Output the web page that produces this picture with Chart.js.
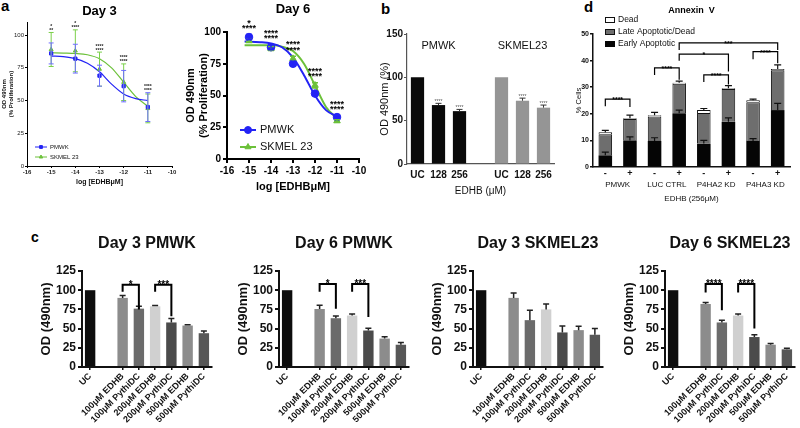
<!DOCTYPE html>
<html>
<head>
<meta charset="utf-8">
<script src="https://cdn.jsdelivr.net/npm/chart.js@4.4.1/dist/chart.umd.min.js"></script>
<style>
  body { margin: 0; background: #fff; }
  #figura { position: relative; width: 800px; height: 428px; overflow: hidden; background: #fff; font-family: 'Liberation Sans', Arial, sans-serif; }
  #figura canvas { position: absolute; }
  .letra { position: absolute; font-weight: bold; font-size: 15px; color: #000; }
</style>
</head>
<body>
<div id="figura">
  <div class="letra" style="left:1px;top:-3px">a</div>
  <div class="letra" style="left:381px;top:0px">b</div>
  <div class="letra" style="left:584px;top:-2px">d</div>
  <div class="letra" style="left:31px;top:229px;font-size:14px">c</div>
</div>
<script>
// ---- painel a: proliferação (log da dose) ----
var logDose = [-15, -14, -13, -12, -11]

var pmwkDia3 = [86, 82, 69, 61, 45]
var pmwkDia3Erro = [8, 11, 8, 12, 11]
var skmelDia3 = [89, 88, 74, 64, 44]
var skmelDia3Erro = [13, 16, 13, 14, 11]
var curvaX3 = [-15, -14.5, -14, -13.5, -13, -12.5, -12, -11.5, -11]
var curvaPmwk3 = [84, 83.5, 82, 78.5, 72, 62.5, 55, 51.5, 50]
var curvaSkmel3 = [86.5, 86.3, 86, 85, 82, 75, 64, 53, 45.5]
var estrelasDia3 = [['*', '**'], ['*', '****'], ['****', '****'], ['****', '****'], ['****', '****']]

var pmwkDia6 = [96, 88, 75, 51.5, 33]
var pmwkDia6Erro = [2, 2, 2, 1, 1]
var skmelDia6 = [93, 87, 79, 58, 30]
var skmelDia6Erro = [1, 1.5, 2, 2, 1]
var curvaX6 = [-15.2, -14.5, -14, -13.5, -13, -12.5, -12, -11.5, -11]
var curvaPmwk6 = [92.5, 92, 91, 88, 80, 66, 50, 38.5, 33.5]
var curvaSkmel6 = [89.5, 89.5, 89.5, 88.5, 85, 75, 58, 41, 32]
var estrelasDia6 = [['*', '****'], ['****', '****'], ['****', '****'], ['****', '****'], ['****', '****']]

// ---- painel b ----
var dosesB = ['UC', '128', '256']
var linhagensB = ['PMWK', 'SKMEL23']
var pmwkB = [100, 68, 61]
var pmwkBErro = [0, 2, 2]
var skmelB = [100, 73, 65]
var skmelBErro = [0, 3, 3]

// ---- painel d: Annexin V ----
var condicoesD = ['-', '+', '-', '+', '-', '+', '-', '+']
var gruposD = ['PMWK', 'LUC CTRL', 'P4HA2 KD', 'P4HA3 KD']
var precoce = [4.4, 10, 9.8, 20.2, 8.8, 17, 9.8, 21.4]
var precoceErro = [1.2, 1.3, 1.2, 1.2, 1.2, 1.5, 0.9, 2.5]
var tardio = [7.9, 8, 9.2, 11.1, 11.5, 12.3, 14.5, 15]
var morto = [0.8, 0.3, 0.5, 0.4, 1.1, 0.3, 0.8, 0.4]
var mortoErro = [0.7, 1.2, 1.0, 0.6, 0.6, 1.0, 0.4, 1.6]
// [barra a, barra b, altura, fim perna a, fim perna b, texto]
var colchetesD = [[0, 1, 25.5, 22.8, 22.6, '****'], [2, 3, 37.3, 34.6, 32.8, '****'], [4, 5, 34.6, 32, 31, '****'],
  [3, 5, 42.4, 39.9, 35.9, '*'], [3, 7, 46.7, 44, 44, '***'], [6, 7, 43.4, 40.5, 39, '****']]

// ---- painel c ----
var tratamentosC = ['UC', '100μM EDHB', '100μM PythiDC', '200μM EDHB', '200μM PythiDC', '500μM EDHB', '500μM PythiDC']
var dia3Pmwk = [100, 90, 76, 79, 58, 54, 44]
var dia3PmwkErro = [0, 3, 3, 1, 5, 1, 3]
var dia6Pmwk = [100, 75.5, 63.5, 67, 47.5, 37, 29]
var dia6PmwkErro = [0, 5, 3, 2, 3, 2.5, 3]
var dia3Skmel = [100, 90, 61, 75, 45, 48, 42]
var dia3SkmelErro = [0, 6.5, 13, 7, 8.5, 5, 8]
var dia6Skmel = [100, 82, 58, 67, 39, 29, 23]
var dia6SkmelErro = [0, 2, 3, 2, 3, 1.5, 1.5]
var colchetesDia3Pmwk = [[1, 2, 107, 98, 75, '*'], [3, 4, 107, 98, 66, '***']]
var colchetesDia6Pmwk = [[1, 2, 108, 98, 76, '*'], [3, 4, 108, 98, 65, '***']]
var colchetesDia6Skmel = [[1, 2, 108, 97, 74, '****'], [3, 4, 108, 97, 50, '****']]

var FONTE = "'Liberation Sans', Arial, sans-serif"
Chart.defaults.font.family = FONTE
Chart.defaults.color = '#111'
Chart.defaults.animation = false
Chart.defaults.responsive = false
Chart.defaults.devicePixelRatio = 1
Chart.defaults.plugins.legend.display = false
Chart.defaults.plugins.tooltip.enabled = false

// barras de erro, colchetes, textos e legenda desenhados pelas escalas
var extras = {
  id: 'extras',
  afterDatasetsDraw: function (chart, args, o) {
    var ctx = chart.ctx;
    var x = chart.scales.x, y = chart.scales.y;
    var zero = y.getPixelForValue(0);
    ctx.save();
    (o.erros || []).forEach(function (e) {
      var meta = chart.getDatasetMeta(e.ds);
      e.vals.forEach(function (v, i) {
        var el = meta.data[i];
        if (!v || !el || isNaN(el.y)) return;
        var d = zero - y.getPixelForValue(v);
        var cima = el.y - d;
        var baixo = e.ambos ? el.y + d : el.y;
        ctx.strokeStyle = e.cor;
        ctx.lineWidth = e.larg || 1;
        ctx.beginPath();
        ctx.moveTo(el.x, baixo); ctx.lineTo(el.x, cima);
        ctx.moveTo(el.x - e.cap, cima); ctx.lineTo(el.x + e.cap, cima);
        if (e.ambos) { ctx.moveTo(el.x - e.cap, baixo); ctx.lineTo(el.x + e.cap, baixo); }
        ctx.stroke();
      });
    });
    (o.colchetes || []).forEach(function (c) {
      var xa = x.getPixelForValue(c[0]), xb = x.getPixelForValue(c[1]);
      var yn = y.getPixelForValue(c[2]);
      ctx.strokeStyle = '#000';
      ctx.lineWidth = o.largColchete || 1;
      ctx.beginPath();
      ctx.moveTo(xa, y.getPixelForValue(c[3])); ctx.lineTo(xa, yn);
      ctx.lineTo(xb, yn); ctx.lineTo(xb, y.getPixelForValue(c[4]));
      ctx.stroke();
      ctx.fillStyle = '#000';
      ctx.font = o.fonteColchete;
      ctx.textAlign = 'center';
      ctx.textBaseline = 'alphabetic';
      ctx.fillText(c[5], (xa + xb) / 2, yn + (o.dyColchete || 0));
    });
    (o.notas || []).forEach(function (n) {
      ctx.fillStyle = n.cor || '#000';
      ctx.font = n.fonte;
      ctx.textAlign = 'center';
      ctx.textBaseline = 'alphabetic';
      ctx.fillText(n.texto, x.getPixelForValue(n.x), y.getPixelForValue(n.y) + (n.dy || 0));
    });
    (o.legenda || []).forEach(function (l) {
      var lx = chart.chartArea.left + l.x, ly = chart.chartArea.top + l.y;
      ctx.fillStyle = l.cor;
      ctx.strokeStyle = l.borda || l.cor;
      if (l.tipo == 'linha') {
        ctx.lineWidth = l.larg;
        ctx.beginPath(); ctx.moveTo(lx, ly); ctx.lineTo(lx + l.comp, ly); ctx.stroke();
        ctx.lineWidth = 1;
        Chart.helpers.drawPoint(ctx, { pointStyle: l.ponto, radius: l.raio, rotation: 0, borderWidth: 1 }, lx + l.comp / 2, ly);
      } else {
        ctx.lineWidth = 1;
        ctx.fillRect(lx, ly - l.alt / 2, l.comp, l.alt);
        ctx.strokeRect(lx + 0.5, ly - l.alt / 2 + 0.5, l.comp - 1, l.alt - 1);
      }
      ctx.fillStyle = '#111';
      ctx.font = l.fonte;
      ctx.textAlign = 'left';
      ctx.textBaseline = 'middle';
      ctx.fillText(l.texto, lx + l.comp + l.gap, ly);
    });
    ctx.restore();
  }
}

function novoCanvas(esq, topo, larg, alt) {
  var c = document.createElement('canvas')
  c.width = larg
  c.height = alt
  c.style.left = esq + 'px'
  c.style.top = topo + 'px'
  document.getElementById('figura').appendChild(c)
  return c
}

function fixa(tamanho) {
  return function (eixo) {
    if (eixo.isHorizontal()) eixo.height = tamanho
    else eixo.width = tamanho
  }
}

function pontos(xs, ys) {
  return xs.map(function (v, i) { return { x: v, y: ys[i] } })
}

function notasEstrelas(estrelas, topos, fonte, dyCima, dyBaixo, cor) {
  var notas = []
  estrelas.forEach(function (par, i) {
    notas.push({ x: logDose[i], y: topos[i], dy: dyCima, texto: par[0], fonte: fonte, cor: cor })
    notas.push({ x: logDose[i], y: topos[i], dy: dyBaixo, texto: par[1], fonte: fonte, cor: cor })
  })
  return notas
}

function topos(a, ae, b, be) {
  return a.map(function (v, i) { return Math.max(v + ae[i], b[i] + be[i]) })
}

var AZUL = '#2323f5'
var VERDE = '#6cc13a'

// ---------- Day 3 ----------
new Chart(novoCanvas(0, 0, 199, 186), {
  type: 'scatter',
  data: {
    datasets: [
      { data: pontos(logDose, pmwkDia3), pointStyle: 'rect', pointRadius: 2.3, backgroundColor: AZUL, borderColor: AZUL },
      { data: pontos(logDose, skmelDia3), pointStyle: 'triangle', pointRadius: 2.3, backgroundColor: VERDE, borderColor: VERDE },
      { data: pontos(curvaX3, curvaPmwk3), showLine: true, pointRadius: 0, borderColor: AZUL, borderWidth: 1.2, cubicInterpolationMode: 'monotone' },
      { data: pontos(curvaX3, curvaSkmel3), showLine: true, pointRadius: 0, borderColor: VERDE, borderWidth: 1.2, cubicInterpolationMode: 'monotone' }
    ]
  },
  options: {
    layout: { padding: { left: 0, right: 27, top: 0, bottom: 0 } },
    scales: {
      x: {
        min: -16, max: -10, afterFit: fixa(20),
        ticks: { stepSize: 1, font: { size: 6, weight: 'bold' }, padding: 1, color: '#222' },
        grid: { drawOnChartArea: false, tickLength: 2, color: '#000' },
        border: { color: '#000', width: 1 },
        title: { display: true, text: 'log [EDHBμM]', font: { size: 7, weight: 'bold' }, padding: 0, color: '#111' }
      },
      y: {
        min: 0, max: 110, afterFit: fixa(27),
        ticks: { stepSize: 25, includeBounds: false, font: { size: 6 }, padding: 1, color: '#222' },
        grid: { drawOnChartArea: false, tickLength: 2, color: '#000' },
        border: { color: '#000', width: 1 },
        title: { display: true, text: ['OD 490nm', '(% Proliferation)'], font: { size: 6, weight: 'bold' }, padding: { top: 1, bottom: 0 }, color: '#111' }
      }
    },
    plugins: {
      title: { display: true, text: 'Day 3', fullSize: false, font: { size: 13, weight: 'bold' }, color: '#000', padding: { top: 4, bottom: 2.4 } },
      extras: {
        erros: [
          { ds: 1, vals: skmelDia3Erro, ambos: true, cor: '#7bd04a', cap: 2.5, larg: 1 },
          { ds: 0, vals: pmwkDia3Erro, ambos: true, cor: '#6d6dff', cap: 2.5, larg: 1 }
        ],
        notas: notasEstrelas(estrelasDia3, topos(pmwkDia3, pmwkDia3Erro, skmelDia3, skmelDia3Erro), 'bold 5px ' + FONTE, -4.5, -0.5, '#222'),
        legenda: [
          { tipo: 'linha', x: 8, y: 125, comp: 12, larg: 1, cor: AZUL, ponto: 'rect', raio: 2, gap: 3, texto: 'PMWK', fonte: '6px ' + FONTE },
          { tipo: 'linha', x: 8, y: 135, comp: 12, larg: 1, cor: VERDE, ponto: 'triangle', raio: 2, gap: 3, texto: 'SKMEL 23', fonte: '6px ' + FONTE }
        ]
      }
    }
  },
  plugins: [extras]
})

// ---------- Day 6 ----------
new Chart(novoCanvas(180, 0, 190, 194), {
  type: 'scatter',
  data: {
    datasets: [
      { data: pontos(logDose, pmwkDia6), pointStyle: 'circle', pointRadius: 3.8, backgroundColor: AZUL, borderColor: AZUL },
      { data: pontos(logDose, skmelDia6), pointStyle: 'triangle', pointRadius: 3.8, backgroundColor: VERDE, borderColor: VERDE },
      { data: pontos(curvaX6, curvaPmwk6), showLine: true, pointRadius: 0, borderColor: AZUL, borderWidth: 2, cubicInterpolationMode: 'monotone' },
      { data: pontos(curvaX6, curvaSkmel6), showLine: true, pointRadius: 0, borderColor: VERDE, borderWidth: 2, cubicInterpolationMode: 'monotone' }
    ]
  },
  options: {
    layout: { padding: { left: 0, right: 11, top: 0, bottom: 0 } },
    scales: {
      x: {
        min: -16, max: -10, afterFit: fixa(35),
        ticks: { stepSize: 1, font: { size: 10, weight: 'bold' }, padding: 2, color: '#000' },
        grid: { drawOnChartArea: false, tickLength: 4, color: '#000', lineWidth: 2 },
        border: { color: '#000', width: 2 },
        title: { display: true, text: 'log [EDHBμM]', font: { size: 11, weight: 'bold' }, padding: 0, color: '#000' }
      },
      y: {
        min: 0, max: 100, afterFit: fixa(47),
        ticks: { stepSize: 25, font: { size: 10, weight: 'bold' }, padding: 2, color: '#000' },
        grid: { drawOnChartArea: false, tickLength: 4, color: '#000', lineWidth: 2 },
        border: { color: '#000', width: 2 },
        title: { display: true, text: ['OD 490nm', '(% Proliferation)'], font: { size: 11, weight: 'bold' }, padding: { top: 4.4, bottom: 0 }, color: '#000' }
      }
    },
    plugins: {
      title: { display: true, text: 'Day 6', fullSize: false, font: { size: 13, weight: 'bold' }, color: '#000', padding: { top: 2, bottom: 14.4 } },
      extras: {
        erros: [
          { ds: 1, vals: skmelDia6Erro, ambos: true, cor: VERDE, cap: 3, larg: 1.5 },
          { ds: 0, vals: pmwkDia6Erro, ambos: true, cor: AZUL, cap: 3, larg: 1.5 }
        ],
        notas: notasEstrelas(estrelasDia6, topos(pmwkDia6, pmwkDia6Erro, skmelDia6, skmelDia6Erro), 'bold 9px ' + FONTE, -9, -3.5, '#000'),
        legenda: [
          { tipo: 'linha', x: 13, y: 98, comp: 16, larg: 2, cor: AZUL, ponto: 'circle', raio: 3.5, gap: 4, texto: 'PMWK', fonte: '11px ' + FONTE },
          { tipo: 'linha', x: 13, y: 115, comp: 16, larg: 2, cor: VERDE, ponto: 'triangle', raio: 3.5, gap: 4, texto: 'SKMEL 23', fonte: '11px ' + FONTE }
        ]
      }
    }
  },
  plugins: [extras]
})

// ---------- painel b ----------
var rotulosB = dosesB.concat([''], dosesB)
new Chart(novoCanvas(376, 0, 186, 197), {
  type: 'bar',
  data: {
    labels: rotulosB,
    datasets: [{
      data: pmwkB.concat([null], skmelB),
      backgroundColor: ['#0a0a0a', '#0a0a0a', '#0a0a0a', '#fff', '#959595', '#959595', '#959595'],
      categoryPercentage: 1, barPercentage: 0.63
    }]
  },
  options: {
    layout: { padding: { left: 0, right: 8, top: 34, bottom: 0 } },
    scales: {
      x: {
        afterFit: fixa(33),
        ticks: { font: { size: 10, weight: 'bold' }, padding: 5, color: '#111', maxRotation: 0, autoSkip: false },
        grid: { display: false, drawTicks: false },
        border: { color: '#555', width: 1.2 },
        title: { display: true, text: 'EDHB (μM)', font: { size: 10 }, padding: 0, color: '#111' }
      },
      y: {
        min: 0, max: 150, afterFit: fixa(31),
        ticks: { stepSize: 50, font: { size: 10, weight: 'bold' }, padding: 1, color: '#111' },
        grid: { drawOnChartArea: false, tickLength: 3, color: '#555' },
        border: { color: '#555', width: 1.2 },
        title: { display: true, text: 'OD 490nm (%)', font: { size: 11 }, padding: { top: 2.5, bottom: 0 }, color: '#111' }
      }
    },
    plugins: {
      extras: {
        erros: [{ ds: 0, vals: pmwkBErro.concat([null], skmelBErro), cor: '#333', cap: 3, larg: 1 }],
        notas: [
          { x: 1, y: 133, texto: linhagensB[0], fonte: '11px ' + FONTE, cor: '#111' },
          { x: 5, y: 133, texto: linhagensB[1], fonte: '11px ' + FONTE, cor: '#111' },
          { x: 1, y: pmwkB[1] + pmwkBErro[1], dy: 0, texto: '****', fonte: '5px ' + FONTE, cor: '#555' },
          { x: 2, y: pmwkB[2] + pmwkBErro[2], dy: 0, texto: '****', fonte: '5px ' + FONTE, cor: '#555' },
          { x: 5, y: skmelB[1] + skmelBErro[1], dy: 0, texto: '****', fonte: '5px ' + FONTE, cor: '#555' },
          { x: 6, y: skmelB[2] + skmelBErro[2], dy: 0, texto: '****', fonte: '5px ' + FONTE, cor: '#555' }
        ]
      }
    }
  },
  plugins: [extras]
})

// ---------- painel d ----------
new Chart(novoCanvas(570, 0, 226, 205), {
  type: 'bar',
  data: {
    labels: condicoesD,
    datasets: [
      { label: 'Early Apoptotic', data: precoce, backgroundColor: '#050505', borderColor: '#000', borderWidth: 0 },
      { label: 'Late Apoptotic/Dead', data: tardio, backgroundColor: '#6e6e6e', borderColor: '#111', borderWidth: 1 },
      { label: 'Dead', data: morto, backgroundColor: '#ffffff', borderColor: '#111', borderWidth: 1 }
    ]
  },
  options: {
    datasets: { bar: { categoryPercentage: 1, barPercentage: 0.55 } },
    layout: { padding: { left: 0, right: 6, top: 0, bottom: 0 } },
    scales: {
      x: {
        stacked: true, afterFit: fixa(12),
        ticks: { font: { size: 9, weight: 'bold' }, padding: 1, color: '#111', maxRotation: 0, autoSkip: false },
        grid: { display: false, drawTicks: false },
        border: { color: '#111', width: 1.5 }
      },
      x2: {
        type: 'category', position: 'bottom', labels: gruposD, offset: true, afterFit: fixa(26),
        ticks: { font: { size: 8 }, padding: 1, color: '#111', maxRotation: 0, autoSkip: false },
        grid: { display: false, drawTicks: false },
        border: { display: false },
        title: { display: true, text: 'EDHB (256μM)', font: { size: 8 }, padding: { top: 0, bottom: 1 }, color: '#111' }
      },
      y: {
        stacked: true, min: 0, max: 50, afterFit: fixa(23),
        ticks: { stepSize: 10, font: { size: 7, weight: 'bold' }, padding: 1, color: '#111' },
        grid: { drawOnChartArea: false, tickLength: 3, color: '#111', lineWidth: 1.5 },
        border: { color: '#111', width: 1.5 },
        title: { display: true, text: '% Cells', font: { size: 7.5 }, padding: { top: 4.3, bottom: 0 }, color: '#111' }
      }
    },
    plugins: {
      title: { display: true, text: 'Annexin  V', fullSize: false, font: { size: 9, weight: 'bold' }, color: '#000', padding: { top: 5.6, bottom: 17.6 } },
      extras: {
        erros: [
          { ds: 0, vals: precoceErro, cor: '#111', cap: 3.5, larg: 1.2 },
          { ds: 2, vals: mortoErro, cor: '#111', cap: 3.5, larg: 1.2 }
        ],
        colchetes: colchetesD,
        largColchete: 1.2,
        fonteColchete: 'bold 7px ' + FONTE,
        dyColchete: 3,
        legenda: [
          { tipo: 'caixa', x: 12, y: -14, comp: 10, alt: 6, cor: '#fff', borda: '#111', gap: 3, texto: 'Dead', fonte: '8.5px ' + FONTE },
          { tipo: 'caixa', x: 12, y: -2, comp: 10, alt: 6, cor: '#6e6e6e', borda: '#111', gap: 3, texto: 'Late Apoptotic/Dead', fonte: '8.5px ' + FONTE },
          { tipo: 'caixa', x: 12, y: 10, comp: 10, alt: 6, cor: '#050505', borda: '#050505', gap: 3, texto: 'Early Apoptotic', fonte: '8.5px ' + FONTE }
        ]
      }
    }
  },
  plugins: [extras]
})

// ---------- painel c ----------
var coresC = ['#0d0d0d', '#8c8c8c', '#6b6b6b', '#d0d0d0', '#4b4b4b', '#8c8c8c', '#575757']

// a barra UC fica separada das outras por um espaço vazio
function comEspaco(lista, vazio) {
  return [lista[0], vazio].concat(lista.slice(1))
}
function posicao(i) {
  return i == 0 ? 0 : i + 1
}

function graficoC(esq, larg, titulo, valores, erros, colchetes) {
  var marcas = (colchetes || []).map(function (c) {
    return [posicao(c[0]), posicao(c[1]), c[2], c[3], c[4], c[5]]
  })
  new Chart(novoCanvas(esq, 228, larg, 200), {
    type: 'bar',
    data: {
      labels: comEspaco(tratamentosC, ''),
      datasets: [{
        data: comEspaco(valores, null),
        backgroundColor: comEspaco(coresC, '#fff'),
        categoryPercentage: 0.8, barPercentage: 0.8
      }]
    },
    options: {
      layout: { padding: { left: 0, right: larg - 182, top: 0, bottom: 0 } },
      scales: {
        x: {
          afterFit: fixa(61),
          ticks: { font: { size: 9, weight: 'bold' }, padding: 1, color: '#111', minRotation: 45, maxRotation: 45, autoSkip: false },
          grid: {
            drawOnChartArea: false, offset: false, tickLength: 3, lineWidth: 1.5,
            color: function (c) { return c.tick && c.tick.label === '' ? 'rgba(0,0,0,0)' : '#111' }
          },
          border: { color: '#111', width: 2 }
        },
        y: {
          min: 0, max: 125, afterFit: fixa(52),
          ticks: { stepSize: 25, font: { size: 12, weight: 'bold' }, padding: 2, color: '#111' },
          grid: { drawOnChartArea: false, tickLength: 4, color: '#111', lineWidth: 2 },
          border: { color: '#111', width: 2 },
          title: { display: true, text: 'OD (490nm)', font: { size: 13, weight: 'bold' }, padding: { top: 8.2, bottom: 0 }, color: '#111' }
        }
      },
      plugins: {
        title: { display: true, text: titulo, fullSize: false, font: { size: 16, weight: 'bold' }, color: '#111', padding: { top: 6.4, bottom: 17.4 } },
        extras: {
          erros: [{ ds: 0, vals: comEspaco(erros, null), cor: '#222', cap: 3, larg: 1.5 }],
          colchetes: marcas,
          largColchete: 2,
          fonteColchete: 'bold 10px ' + FONTE,
          dyColchete: 3
        }
      }
    },
    plugins: [extras]
  })
}

graficoC(30, 188, 'Day 3 PMWK', dia3Pmwk, dia3PmwkErro, colchetesDia3Pmwk)
graficoC(227, 188, 'Day 6 PMWK', dia6Pmwk, dia6PmwkErro, colchetesDia6Pmwk)
graficoC(421, 188, 'Day 3 SKMEL23', dia3Skmel, dia3SkmelErro, [])
graficoC(613, 187, 'Day 6 SKMEL23', dia6Skmel, dia6SkmelErro, colchetesDia6Skmel)
</script>
</body>
</html>
